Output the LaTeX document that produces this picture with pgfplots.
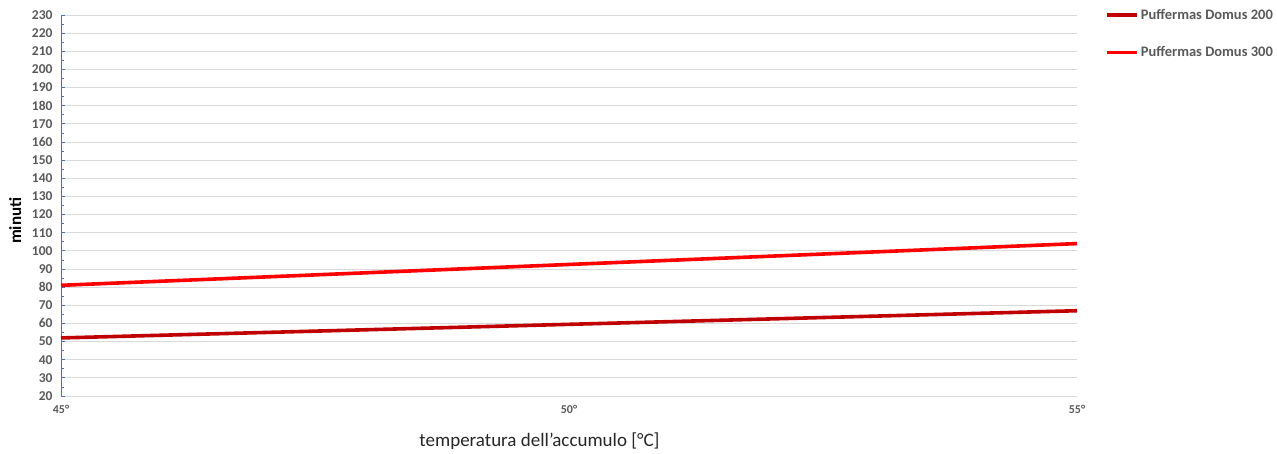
\documentclass[border=0pt]{standalone}
\usepackage{pgfplots}
\pgfplotsset{compat=1.18}
\usepackage{fontspec}
\setmainfont{Carlito}
\definecolor{tickgray}{HTML}{595959}
\definecolor{gridgray}{HTML}{D9D9D9}
\definecolor{axisblue}{HTML}{4472C4}
\definecolor{darkred}{HTML}{C00000}
\definecolor{brightred}{HTML}{FF0000}
\begin{document}
\begin{tikzpicture}[x=1pt,y=1pt]
\useasboundingbox (-61,-58) rectangle (1216,396);
\begin{axis}[
  at={(0,0)}, anchor=south west,
  scale only axis,
  width=1016pt, height=381pt,
  xmin=45, xmax=55,
  ymin=20, ymax=230,
  xtick={45,50,55},
  xticklabels={45°,50°,55°},
  ytick={20,30,...,230},
  minor y tick num=1,
  axis x line*=bottom,
  axis y line*=left,
  x axis line style={draw=none},
  y axis line style={draw=axisblue, line width=0.9pt},
  every y tick/.style={draw=axisblue, line width=0.8pt},
  major tick length=4pt,
  minor tick length=3pt,
  tick align=inside,
  xtick style={draw=none},
  ymajorgrids,
  major grid style={draw=gridgray, line width=0.9pt},
  /pgf/number format/assume math mode=true,
  tick label style={font=\bfseries\fontsize{13.5}{15}\selectfont, text=tickgray},
  xticklabel style={yshift=-6pt, font=\bfseries\fontsize{12}{14}\selectfont},
  yticklabel style={xshift=-5pt},
  xlabel={temperatura dell’accumulo [°C]},
  xlabel style={at={(axis description cs:0.471,-0.118)}, anchor=center,
    font=\fontsize{19}{22}\selectfont, text=black!85},
  ylabel={minuti},
  ylabel style={at={(axis description cs:-0.045,0.46)}, anchor=center,
    font=\bfseries\fontsize{17}{19}\selectfont, text=black},
  legend style={at={(axis description cs:1.0276,1.016)}, anchor=north west,
    draw=none, fill=none, inner sep=0pt, row sep=26pt,
    nodes={inner sep=0pt, text=tickgray, font=\bfseries\fontsize{14.5}{16}\selectfont}},
  legend cell align=left,
  legend image code/.code={\draw[#1] (0pt,0pt) -- (30pt,0pt);},
  /tikz/every odd column/.append style={column sep=2pt},
]
% Puffermas Domus 200
\addplot[darkred, line width=3.6pt] coordinates {(45,52) (50,59.5) (55,67)};
% Puffermas Domus 300
\addplot[brightred, line width=3.6pt] coordinates {(45,81) (50,92.5) (55,104)};
\legend{Puffermas Domus 200, Puffermas Domus 300}
\end{axis}
\end{tikzpicture}
\end{document}
